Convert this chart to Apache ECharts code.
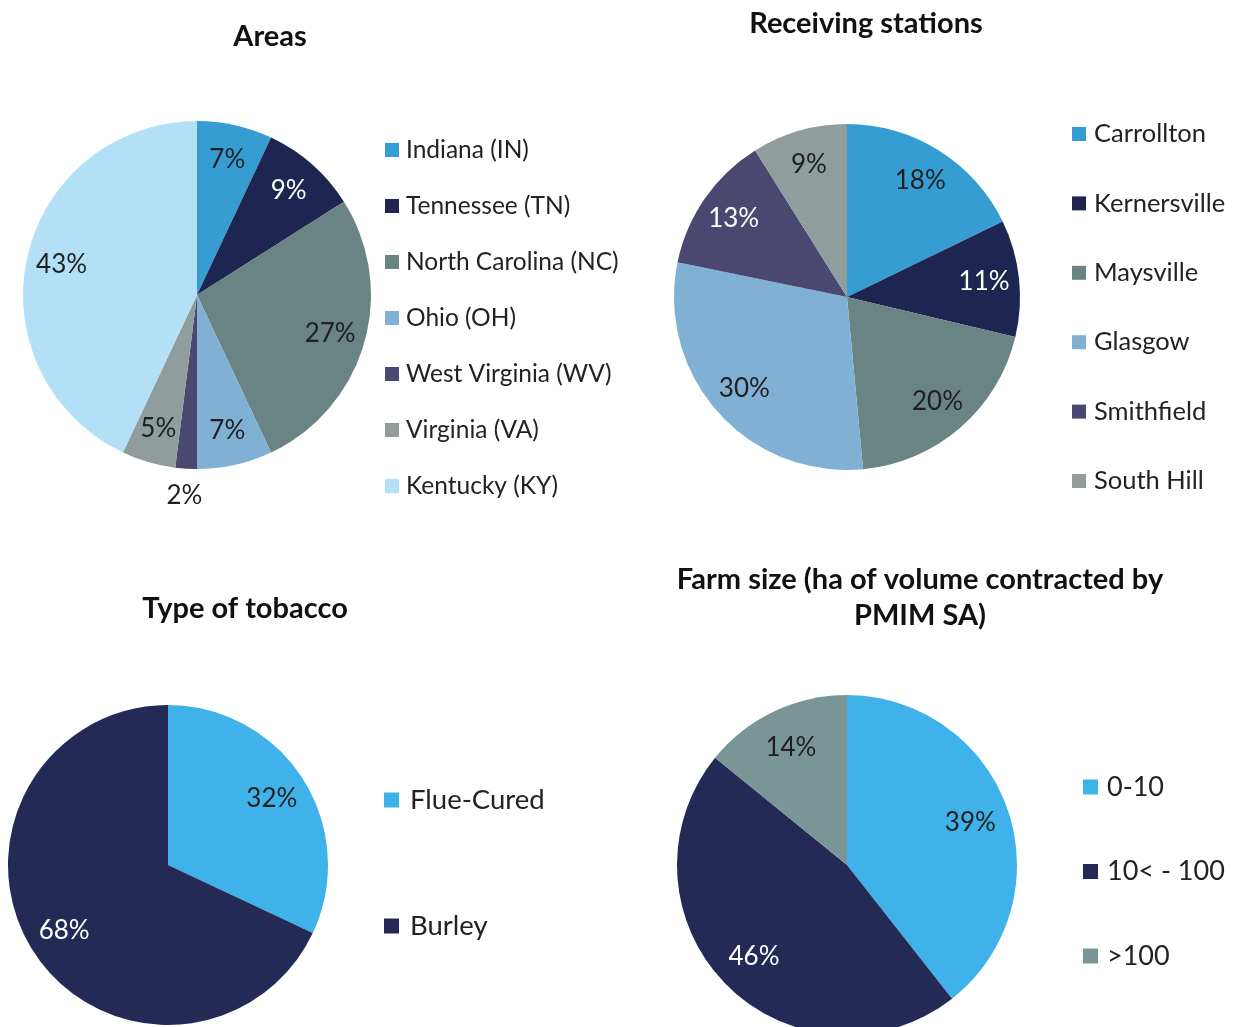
<!DOCTYPE html>
<html>
<head>
<meta charset="utf-8">
<script src="https://cdn.jsdelivr.net/npm/echarts@6/dist/echarts.min.js"></script>
<style>
  html, body { margin: 0; padding: 0; background: #ffffff; }
  #chart { width: 1243px; height: 1027px; }
</style>
</head>
<body>
<div id="chart"></div>
<script>
// ---- data (shares in percent) ----
const areaNames = ['Indiana (IN)', 'Tennessee (TN)', 'North Carolina (NC)', 'Ohio (OH)', 'West Virginia (WV)', 'Virginia (VA)', 'Kentucky (KY)'];
const areaShares = [7, 9, 27, 7, 2, 5, 43];

const stationNames = ['Carrollton', 'Kernersville', 'Maysville', 'Glasgow', 'Smithfield', 'South Hill'];
const stationShares = [18, 11, 20, 30, 13, 9];

const tobaccoNames = ['Flue-Cured', 'Burley'];
const tobaccoShares = [32, 68];

const farmNames = ['0-10', '10< - 100', '>100'];
const farmShares = [39, 46, 14];

// ---- styling ----
const FONT = 'Lato, "Open Sans", "DejaVu Sans", sans-serif';
const DARK = '#1f1f1f';
const LIGHT = '#ffffff';

const areaColors = ['#369dd3', '#1e2550', '#6a8383', '#80b1d5', '#4a4870', '#8f9d9d', '#b3e0f7'];
const areaInk = [DARK, LIGHT, DARK, DARK, DARK, DARK, DARK];
const stationColors = ['#369dd3', '#1e2550', '#6a8383', '#80b1d5', '#4a4870', '#8f9d9d'];
const stationInk = [DARK, LIGHT, DARK, DARK, LIGHT, DARK];
const tobaccoColors = ['#3fb2ea', '#232a55'];
const tobaccoInk = [DARK, LIGHT];
const farmColors = ['#3fb2ea', '#232a55', '#7a9595'];
const farmInk = [DARK, LIGHT, DARK];

// slices thinner than this get their label just outside the rim
const SMALL_SLICE = 3;

function pieSeries(names, shares, colors, ink, center, r, labelRing, labelSize) {
  const base = {
    type: 'pie',
    center: center,
    startAngle: 90,
    clockwise: true,
    avoidLabelOverlap: false,
    animation: false
  };
  const main = Object.assign({}, base, {
    radius: [0, r],
    label: { show: false },
    labelLine: { show: false },
    itemStyle: { borderWidth: 0 },
    emphasis: { disabled: true },
    data: names.map((n, i) => ({ name: n, value: shares[i], itemStyle: { color: colors[i] } }))
  });
  const labelStyle = (i, show) => ({
    show: show,
    position: 'inside',
    formatter: '{c}%',
    color: ink[i],
    fontFamily: FONT,
    fontSize: labelSize
  });
  // transparent ring whose mid-radius carries the percentage labels
  const inner = Object.assign({}, base, {
    radius: [r * labelRing, r],
    silent: true,
    labelLine: { show: false },
    itemStyle: { color: 'transparent', borderWidth: 0 },
    data: names.map((n, i) => ({ name: n, value: shares[i], label: labelStyle(i, shares[i] >= SMALL_SLICE) }))
  });
  // ring just outside the rim for the labels of very thin slices
  const outer = Object.assign({}, base, {
    radius: [r, r + 48],
    silent: true,
    labelLine: { show: false },
    itemStyle: { color: 'transparent', borderWidth: 0 },
    data: names.map((n, i) => ({ name: n, value: shares[i], label: Object.assign(labelStyle(i, shares[i] < SMALL_SLICE), { color: DARK }) }))
  });
  return [main, inner, outer];
}

function legendFor(names, left, top, gap, fontSize, lineHeight, iconSize, textPad) {
  return {
    data: names,
    orient: 'vertical',
    left: left,
    top: top,
    padding: 0,
    itemGap: gap,
    itemWidth: iconSize,
    itemHeight: iconSize,
    icon: 'rect',
    selectedMode: false,
    textStyle: {
      fontFamily: FONT,
      fontSize: fontSize,
      lineHeight: lineHeight,
      color: '#222222',
      padding: [0, 0, 0, textPad]
    }
  };
}

function titleText(text, x, y) {
  return {
    type: 'text',
    x: x,
    y: y,
    style: {
      text: text,
      fill: '#111111',
      font: 'bold 29px ' + FONT,
      textAlign: 'center',
      textVerticalAlign: 'middle',
      lineHeight: 36
    }
  };
}

const chart = echarts.init(document.getElementById('chart'));
chart.setOption({
  backgroundColor: '#ffffff',
  graphic: [
    titleText('Areas', 270, 37),
    titleText('Receiving stations', 866, 24),
    titleText('Type of tobacco', 245, 609),
    titleText('Farm size (ha of volume contracted by\nPMIM SA)', 920, 598)
  ],
  legend: [
    legendFor(areaNames, 385, 137, 30, 24.5, 26, 14, 2),
    legendFor(stationNames, 1072, 121, 43.4, 25.5, 26, 14, 3),
    legendFor(tobaccoNames, 384, 785, 96, 27.5, 30, 15, 6),
    legendFor(farmNames, 1083, 772, 54.5, 27, 30, 15, 4)
  ],
  series: [].concat(
    pieSeries(areaNames, areaShares, areaColors, areaInk, [197, 295], 174, 0.56, 26),
    pieSeries(stationNames, stationShares, stationColors, stationInk, [847, 297], 173, 0.56, 26),
    pieSeries(tobaccoNames, tobaccoShares, tobaccoColors, tobaccoInk, [168, 865], 160, 0.5, 26),
    pieSeries(farmNames, farmShares, farmColors, farmInk, [847, 865], 170, 0.5, 26)
  )
});
</script>
</body>
</html>
